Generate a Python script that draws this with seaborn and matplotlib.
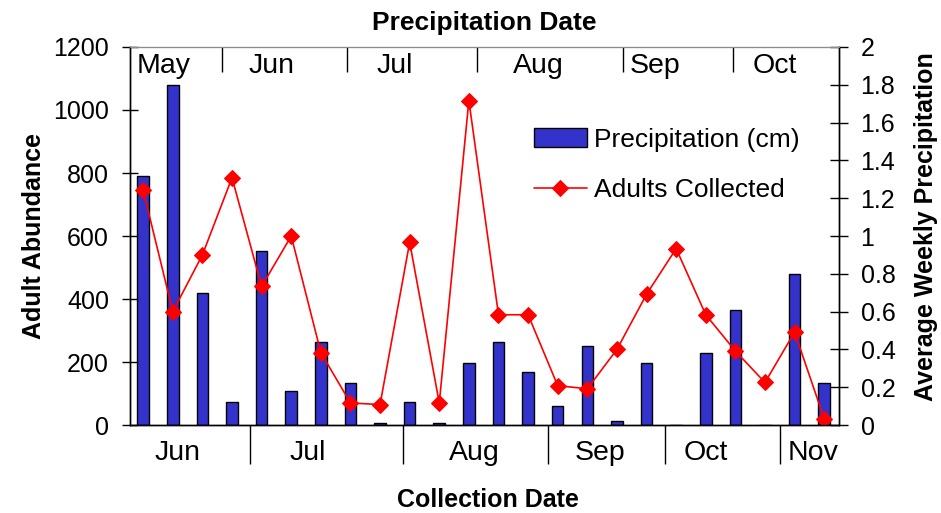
import numpy as np
import pandas as pd
import matplotlib.pyplot as plt
import seaborn as sns
from matplotlib.ticker import NullFormatter

# weekly values, one per collection week
precip_cm = [1.32, 1.80, 0.70, 0.12, 0.92, 0.18, 0.44, 0.22, 0.01, 0.12, 0.01, 0.33,
             0.44, 0.28, 0.10, 0.42, 0.02, 0.33, 0.00, 0.38, 0.61, 0.00, 0.80, 0.22]
adults = [745, 360, 540, 785, 440, 600, 230, 70, 65, 580, 70, 1030,
          350, 350, 125, 115, 240, 415, 560, 350, 235, 135, 295, 20]

collection_months = ['Jun', 'Jul', 'Aug', 'Sep', 'Oct', 'Nov']
precip_months = ['May', 'Jun', 'Jul', 'Aug', 'Sep', 'Oct']

# where the month labels / separators sit along the week axis
bottom_seps = [3.6, 8.76, 13.66, 17.63, 21.5]
bottom_lab_pos = [1.17, 5.57, 11.18, 15.43, 19.01, 22.63]
top_seps = [2.66, 6.89, 11.28, 16.21, 19.93]
top_lab_pos = [0.68, 4.32, 8.51, 13.34, 17.29, 21.34]

df = pd.DataFrame({'week': range(len(adults)), 'precip': precip_cm, 'adults': adults})

sns.set_style('white')
plt.rcParams['font.family'] = ['Liberation Sans', 'DejaVu Sans']
plt.rcParams.update({'text.color': 'black', 'axes.labelcolor': 'black',
                     'xtick.color': 'black', 'ytick.color': 'black'})
fs = 18
month_fs = 20.5

fig, ax = plt.subplots(figsize=(9.41, 5.13), dpi=100)
fig.subplots_adjust(left=0.138, right=0.8916, bottom=0.1715, top=0.9084)
ax2 = ax.twinx()

sns.barplot(data=df, x='week', y='precip', ax=ax2, color='#3333cc', saturation=1,
            width=0.39, edgecolor='black', linewidth=1.0, errorbar=None,
            label='Precipitation (cm)')
sns.lineplot(data=df, x='week', y='adults', ax=ax, color='red', marker='D',
             markersize=8.5, markeredgecolor='red', linewidth=1.2,
             label='Adults Collected')

for a in (ax, ax2):
    if a.get_legend() is not None:
        a.get_legend().remove()

ax.set_zorder(ax2.get_zorder() + 1)
ax.patch.set_visible(False)

ax.set_xlim(-0.45, 23.5)
ax.set_ylim(0, 1200)
ax.set_yticks(range(0, 1201, 200))
ax2.set_ylim(0, 2)
ax2.set_yticks(np.arange(0, 2.01, 0.2))
ax2.yaxis.set_major_formatter(lambda v, p: f'{v:g}')

ax.tick_params(axis='y', direction='inout', length=12, width=1, labelsize=fs, pad=9)
ax2.tick_params(axis='y', direction='inout', length=13, width=1, labelsize=fs, pad=9)

# bottom axis: collection months
ax.set_xticks(bottom_seps)
ax.xaxis.set_major_formatter(NullFormatter())
ax.set_xticks(bottom_lab_pos, labels=collection_months, minor=True)
ax.tick_params(axis='x', which='major', direction='out', length=28, width=1, bottom=True)
ax.tick_params(axis='x', which='minor', length=0, labelsize=month_fs, pad=11)

# top axis: precipitation months, labels inside the plot
secax = ax.secondary_xaxis('top')
secax.set_xticks(top_seps)
secax.xaxis.set_major_formatter(NullFormatter())
secax.set_xticks(top_lab_pos, labels=precip_months, minor=True)
secax.tick_params(which='major', direction='in', length=18, width=1)
secax.tick_params(which='minor', length=0, labelsize=month_fs, pad=-23)

for a in (ax, ax2, secax):
    a.spines['top'].set_color('0.55')
for a in (ax, ax2):
    for s in ('left', 'right', 'bottom'):
        a.spines[s].set_color('black')
        a.spines[s].set_linewidth(1)

ax.set_xlabel('Collection Date', fontsize=fs, fontweight='bold')
ax.xaxis.set_label_coords(0.505, -0.167)
ax.set_ylabel('Adult Abundance', fontsize=fs, fontweight='bold')
ax.yaxis.set_label_coords(-0.118, 0.5)
ax2.set_ylabel('Average Weekly Precipitation', fontsize=fs, fontweight='bold')
ax2.yaxis.set_label_coords(1.106, 0.524)
ax.set_title('Precipitation Date', fontsize=19, fontweight='bold', y=1.045, pad=0)

h1, l1 = ax2.get_legend_handles_labels()
h2, l2 = ax.get_legend_handles_labels()
fig.legend(h1 + h2, l1 + l2, loc='upper left', bbox_to_anchor=(0.542, 0.797),
           frameon=False, fontsize=19, handlelength=2.0, handletextpad=0.3,
           labelspacing=1.0, borderpad=0.4)

fig.savefig('out.png', dpi=100)
